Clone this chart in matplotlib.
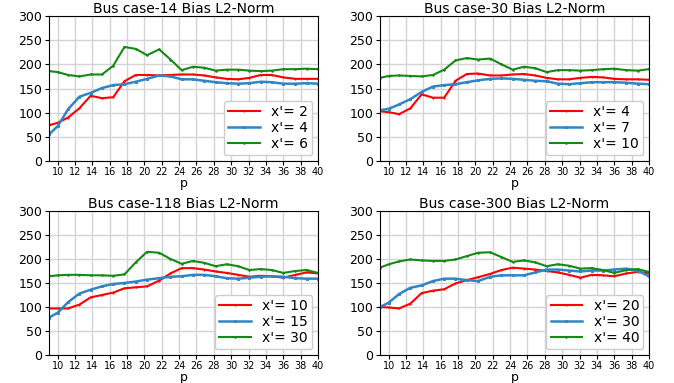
import matplotlib
matplotlib.use('Agg')
import matplotlib.pyplot as plt

# p values (x axis), shared by all four panels
p = [9.0, 10.0, 11.2, 12.5, 13.8, 15.1, 16.4, 17.7, 19.0, 20.3, 21.7, 23.0, 24.3,
     25.6, 26.9, 28.2, 29.5, 30.8, 32.1, 33.4, 34.7, 36.0, 37.4, 38.7, 40.0]

# Bus case-14
case14_x2 = [74, 79, 90, 109, 135, 130, 132, 165, 178, 178, 177, 178, 179,
             179, 177, 173, 170, 169, 172, 178, 178, 173, 170, 170, 170]
case14_x4 = [55, 72, 107, 133, 141, 151, 157, 159, 164, 170, 177, 175, 169,
             169, 166, 163, 161, 160, 161, 164, 163, 160, 160, 161, 160]
case14_x6 = [186, 184, 178, 175, 179, 179, 197, 236, 232, 219, 231, 210, 188,
             195, 193, 187, 189, 189, 187, 186, 187, 190, 190, 191, 190]

# Bus case-30
case30_x4 = [103, 101, 97, 109, 138, 131, 131, 166, 180, 181, 177, 177, 179,
             180, 177, 172, 169, 169, 172, 174, 173, 170, 169, 169, 168]
case30_x7 = [105, 108, 117, 128, 143, 154, 157, 159, 163, 167, 170, 171, 170,
             168, 166, 165, 160, 159, 161, 163, 163, 163, 162, 160, 159]
case30_x10 = [172, 176, 177, 176, 175, 178, 189, 208, 213, 210, 212, 200, 189,
              195, 192, 184, 188, 188, 187, 188, 190, 191, 188, 187, 190]

# Bus case-118
case118_x10 = [97, 97, 97, 105, 120, 125, 130, 139, 141, 143, 155, 170, 181,
               181, 178, 174, 171, 167, 163, 165, 164, 161, 167, 172, 170]
case118_x15 = [78, 88, 110, 128, 136, 143, 148, 150, 153, 157, 160, 163, 164,
               167, 167, 164, 160, 159, 161, 163, 164, 163, 160, 159, 159]
case118_x30 = [164, 166, 167, 167, 166, 166, 165, 168, 193, 215, 213, 200, 190,
               196, 192, 185, 189, 185, 177, 179, 177, 171, 175, 177, 171]

# Bus case-300
case300_x20 = [100, 99, 97, 107, 129, 134, 137, 149, 156, 162, 169, 177, 182,
               180, 178, 175, 172, 167, 161, 167, 166, 164, 170, 173, 170]
case300_x30 = [100, 109, 127, 140, 145, 154, 159, 159, 156, 154, 163, 166, 166,
               166, 172, 178, 178, 176, 174, 176, 176, 178, 180, 176, 164]
case300_x40 = [182, 189, 195, 199, 197, 196, 196, 199, 206, 213, 214, 204, 194,
               197, 193, 185, 189, 186, 180, 181, 177, 171, 177, 179, 173]

panels = [
    ("Bus case-14 Bias L2-Norm", [("x'= 2", case14_x2), ("x'= 4", case14_x4), ("x'= 6", case14_x6)]),
    ("Bus case-30 Bias L2-Norm", [("x'= 4", case30_x4), ("x'= 7", case30_x7), ("x'= 10", case30_x10)]),
    ("Bus case-118 Bias L2-Norm", [("x'= 10", case118_x10), ("x'= 15", case118_x15), ("x'= 30", case118_x30)]),
    ("Bus case-300 Bias L2-Norm", [("x'= 20", case300_x20), ("x'= 30", case300_x30), ("x'= 40", case300_x40)]),
]

colors = ['#ff0000', '#2f86c6', '#138a13']
markers = ['+', '*', '.']
widths = [1.5, 1.8, 1.5]

# axes boxes in figure fractions [left, bottom, width, height]
boxes = [
    [0.0727, 0.5796, 0.399, 0.3786],
    [0.5638, 0.5796, 0.399, 0.3786],
    [0.0727, 0.0731, 0.399, 0.3760],
    [0.5638, 0.0731, 0.399, 0.3760],
]

fig = plt.figure(figsize=(6.74, 3.83), dpi=100)
for box, (title, series) in zip(boxes, panels):
    ax = fig.add_axes(box)
    for (label, vals), c, m, lw in zip(series, colors, markers, widths):
        ax.plot(p, vals, color=c, marker=m, markersize=2, markeredgewidth=0.8,
                linewidth=lw, label=label)
    ax.set_xlim(9, 40)
    ax.set_ylim(0, 300)
    ax.set_xticks(range(10, 41, 2))
    ax.set_yticks(range(0, 301, 50))
    ax.tick_params(axis='x', labelsize=7, pad=1.5, length=3)
    ax.tick_params(axis='y', labelsize=9, pad=2, length=3)
    ax.grid(True, color='#d3d3d3', linewidth=1)
    ax.set_axisbelow(True)
    ax.set_title(title, fontsize=10, pad=1.5)
    ax.set_xlabel('p', fontsize=9, labelpad=0)
    ax.legend(loc='lower right', fontsize=10, labelspacing=0.15, borderpad=0.3,
              handlelength=2.3, handletextpad=0.8, borderaxespad=0.4, framealpha=1)

fig.savefig('out.png', dpi=100)
